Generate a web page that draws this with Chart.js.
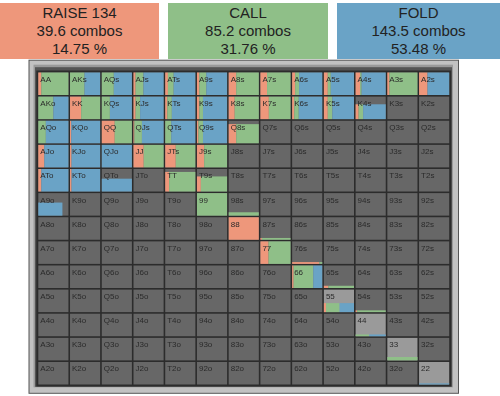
<!DOCTYPE html>
<html><head><meta charset="utf-8">
<script src="https://cdn.jsdelivr.net/npm/chart.js@4/dist/chart.umd.min.js"></script>
<style>
html,body{margin:0;padding:0;background:#fff;width:500px;height:396px;overflow:hidden;font-family:"Liberation Sans",Arial,sans-serif;}
.box{position:absolute;top:3px;height:56px;text-align:center;color:#222;font-size:15px;line-height:18px;padding-top:1px;box-sizing:border-box;}
canvas{position:absolute;left:0;top:0;}
</style></head><body>
<div id="hdr"></div>
<canvas id="c" width="500" height="396"></canvas>
<script>
// ---- data ----
const ranks = ['A','K','Q','J','T','9','8','7','6','5','4','3','2'];
const actionNames = ['RAISE 134','CALL','FOLD'];
const actionCombos = [39.6, 85.2, 143.5];
const actionPercents = [14.75, 31.76, 53.48];
const actionColors = ['#ee977b','#8fbf88','#6aa3c6'];

const hands      = ['AA','AKs','AQs','AJs','ATs','A9s','A8s','A7s','A6s','A5s','A4s','A3s','A2s',
                    'AKo','KK','KQs','KJs','KTs','K9s','K8s','K7s','K6s','K5s','K4s',
                    'AQo','KQo','QQ','QJs','QTs','Q9s','Q8s',
                    'AJo','KJo','QJo','JJ','JTs','J9s',
                    'ATo','KTo','QTo','TT','T9s',
                    'A9o','99','98s','88','87s','77','76s','66','65s','55','54s','44','33','22'];
const handWeight = [1,1,1,1,1,1,1,1,1,1,1,1,1,
                    1,1,1,1,1,1,1,1,1,1,0.66,
                    1,1,1,1,1,1,0.85,
                    1,1,1,1,1,1,
                    1,1,0.57,0.87,0.67,
                    0.58,1,0.15,1,0.08,1,0.08,1,0.1,0.4,0.08,0.08,0.15,0.05];
const raiseShare = [0.1,0,0,0.07,0.09,0.08,0.25,0.22,0.1,0.13,0.15,0.07,0.28,
                    0,0.37,0,0.07,0.07,0.08,0.2,0.28,0.07,0.13,0.1,
                    0,0.04,0.43,0.03,0,0.05,0.25,
                    0.2,0.05,0,0.34,0.35,0.24,
                    0.1,0.05,0,0.13,0.13,
                    0,0,0,1,0.05,0.27,0.9,0.05,0.15,0.07,0.05,0,0,0];
const callShare  = [0.9,0.48,0.4,0.26,0.19,0.23,0.75,0.78,0.13,0.1,0.05,0.93,0,
                    0.5,0.63,0.27,0.15,0.15,0.12,0.8,0.72,0.15,0.15,0.15,
                    0.25,0,0.57,0.25,0.2,0.15,0.75,
                    0,0,0,0.66,0.65,0.76,
                    0,0,0,0.87,0.87,
                    0,1,1,0,0.95,0.73,0.1,0.65,0.85,0.45,0.95,0.45,1,0];
const foldShare  = [0,0.52,0.6,0.67,0.72,0.69,0,0,0.77,0.77,0.8,0,0.72,
                    0.5,0,0.73,0.78,0.78,0.8,0,0,0.78,0.72,0.75,
                    0.75,0.96,0,0.72,0.8,0.8,0,
                    0.8,0.95,1,0,0,0,
                    0.9,0.95,1,0,0,
                    0.8,0,0,0,0,0,0,0.3,0,0.48,0,0.55,0,1];
const greyedHands = ['55','44','33','22'];

// ---- header ----
const hdr = document.getElementById('hdr');
const boxX = [0,168,337], boxW = [159,160,163];
actionNames.forEach((n,i)=>{
  const d = document.createElement('div');
  d.className='box';
  d.style.left=boxX[i]+'px'; d.style.width=boxW[i]+'px';
  d.style.background=actionColors[i];
  d.innerHTML = n+'<br>'+actionCombos[i].toFixed(1)+' combos<br>'+actionPercents[i].toFixed(2)+' %';
  hdr.appendChild(d);
});

function handName(r,c){
  if(r===c) return ranks[r]+ranks[r];
  if(c>r) return ranks[r]+ranks[c]+'s';
  return ranks[c]+ranks[r]+'o';
}

const gridPlugin = {
  id:'rangeGrid',
  beforeDatasetsDraw(chart){
    const {ctx, chartArea:a, scales:{x,y}} = chart;
    const w=a.right-a.left, h=a.bottom-a.top;
    ctx.save();
    // frame
    ctx.fillStyle='#555555'; ctx.fillRect(a.left-9, a.top-12, w+18, h+20.5);
    ctx.fillStyle='#c2c2c2'; ctx.fillRect(a.left-8, a.top-11, w+16, h+18.5);
    ctx.fillStyle='#9a9a9a'; ctx.fillRect(a.left-4, a.top-7, w+7, h+9);
    ctx.fillStyle='#555555'; ctx.fillRect(a.left-2.5, a.top-4.5, w+4.5, h+6);
    ctx.fillStyle='#2c2c2c'; ctx.fillRect(a.left-1.2, a.top-1.2, w+2.4, h+2.4);
    for(let r=0;r<13;r++){
      for(let c=0;c<13;c++){
        const name=handName(r,c);
        const x0=x.getPixelForValue(c)+0.8, x1=x.getPixelForValue(c+1)-0.8;
        const y0=y.getPixelForValue(r)+0.8, y1=y.getPixelForValue(r+1)-0.8;
        const cw=x1-x0, ch=y1-y0;
        ctx.fillStyle = greyedHands.includes(name) ? '#9a9a9a' : '#676767';
        ctx.fillRect(x0,y0,cw,ch);
        const k=hands.indexOf(name);
        if(k>=0){
          const bh=handWeight[k]*ch;
          const shares=[raiseShare[k],callShare[k],foldShare[k]];
          let cx=x0;
          shares.forEach((s,i)=>{
            if(s>0){
              ctx.fillStyle=actionColors[i];
              ctx.fillRect(cx,y1-bh,s*cw,bh);
              cx+=s*cw;
            }
          });
        }
        ctx.fillStyle='#2a2a2a';
        ctx.font='8px "Liberation Sans", Arial, sans-serif';
        ctx.textBaseline='alphabetic';
        ctx.fillText(name, x0+2, y0+9.5);
      }
    }
    ctx.restore();
  }
};

new Chart(document.getElementById('c'), {
  type:'scatter',
  data:{datasets:[{data:[], pointRadius:0}]},
  options:{
    responsive:false, animation:false, devicePixelRatio:1,
    layout:{padding:{left:37.5, right:50, top:71.7, bottom:10.7}},
    plugins:{legend:{display:false}, tooltip:{enabled:false}},
    scales:{
      x:{type:'linear', min:0, max:13, display:false},
      y:{type:'linear', min:0, max:13, reverse:true, display:false}
    }
  },
  plugins:[gridPlugin]
});
</script>
</body></html>
